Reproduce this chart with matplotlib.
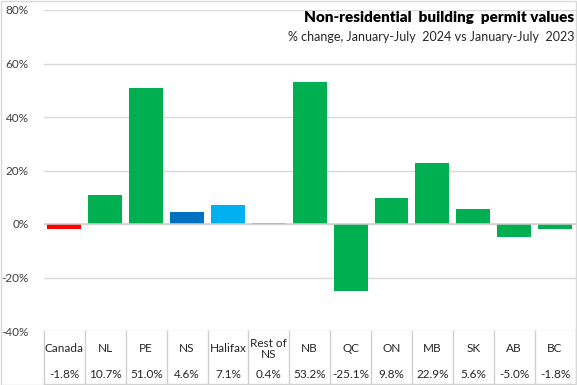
import matplotlib
matplotlib.use("Agg")
import matplotlib.pyplot as plt
from matplotlib.patches import Rectangle

plt.rcParams['font.family'] = ['Lato', 'DejaVu Sans']

categories = ["Canada", "NL", "PE", "NS", "Halifax", "Rest of\nNS", "NB", "QC",
              "ON", "MB", "SK", "AB", "BC"]
values = [-1.8, 10.7, 51.0, 4.6, 7.1, 0.4, 53.2, -25.1, 9.8, 22.9, 5.6, -5.0, -1.8]
colors = ["#FF0000", "#00B050", "#00B050", "#0070C0", "#00B0F0", "#00B050", "#00B050",
          "#00B050", "#00B050", "#00B050", "#00B050", "#00B050", "#00B050"]
yticks = [-40, -20, 0, 20, 40, 60, 80]

W, H = 577, 385
fig = plt.figure(figsize=(W / 100, H / 100), dpi=100)
ax = fig.add_axes([44 / W, (H - 331) / H, (575.5 - 44) / W, 321 / H])

x = range(len(categories))
ax.bar(x, values, width=0.83, color=colors, zorder=3)

ax.set_xlim(-0.5, len(categories) - 0.5)
ax.set_ylim(-40, 80)
ax.set_yticks(yticks)
ax.set_yticklabels([f"{t}%" for t in yticks], color="#404040", fontsize=8.5)
ax.tick_params(axis="y", length=0, pad=11)
ax.set_xticks([])
for s in ax.spines.values():
    s.set_visible(False)
ax.grid(axis="y", color="#D9D9D9", linewidth=1, zorder=0)
ax.axhline(0, color="#D0D0D0", linewidth=1.1, zorder=4)

# data table under the axis
grey = "#D0D0D0"
trans = ax.get_xaxis_transform()
bottom = -(H - 331) / 321
for i in range(len(categories) + 1):
    ax.plot([i - 0.5, i - 0.5], [0, bottom], transform=trans, color=grey,
            linewidth=1, clip_on=False)
ax.plot([-0.5, len(categories) - 0.5], [bottom + 0.004, bottom + 0.004], transform=trans,
        color=grey, linewidth=1, clip_on=False)
for i, (c, v) in enumerate(zip(categories, values)):
    ax.text(i, -0.056, c, transform=trans, ha="center", va="center",
            fontsize=8.5, color="#262626", linespacing=1.0)
    ax.text(i, -0.134, f"{v:.1f}%", transform=trans, ha="center", va="center",
            fontsize=8.5, color="#262626")

fig.text(574 / W, 1 - 18 / H, "Non-residential  building  permit values", ha="right",
         va="center", fontsize=11, fontweight="heavy", color="black")
fig.text(574 / W, 1 - 37 / H, "% change, January-July  2024 vs January-July  2023",
         ha="right", va="center", fontsize=9, color="#262626")

fig.patches.append(Rectangle((0.5 / W, 0.5 / H), 1 - 1.5 / W, 1 - 1.5 / H,
                             transform=fig.transFigure, fill=False,
                             edgecolor="#D9D9D9", linewidth=1))

fig.savefig("out.png", dpi=100)
